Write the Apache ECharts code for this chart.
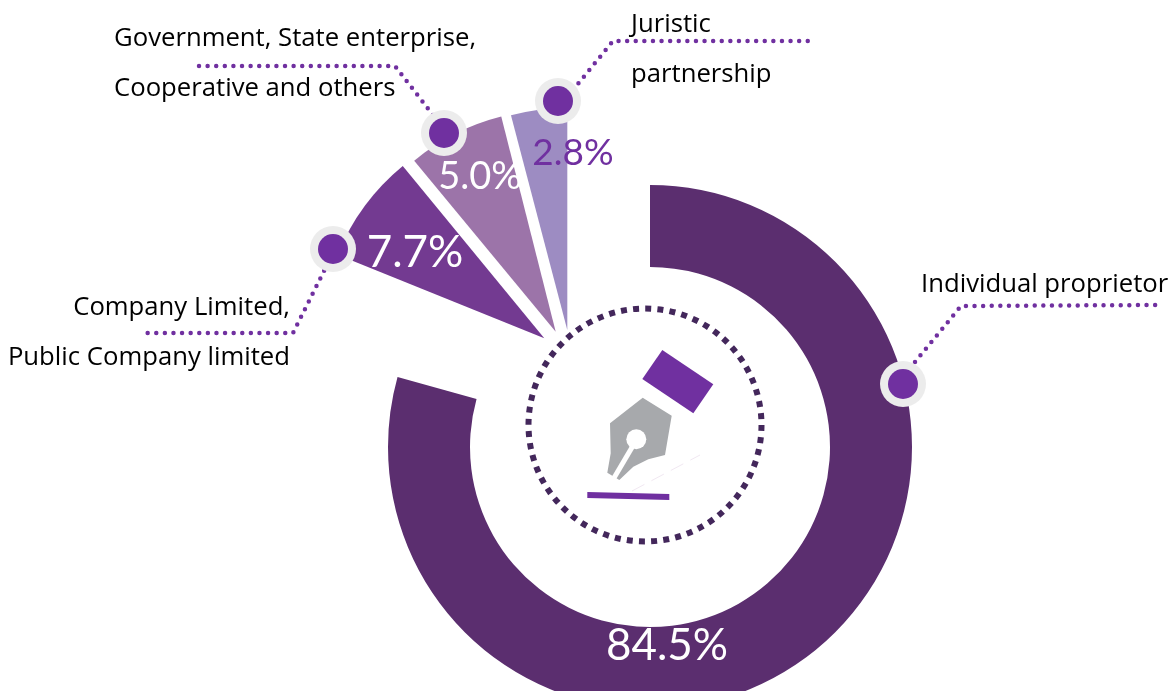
<!DOCTYPE html>
<html>
<head>
<meta charset="utf-8">
<title>Share by juristic type</title>
<script src="https://cdn.jsdelivr.net/npm/echarts@6/dist/echarts.min.js"></script>
<style>
    html, body { margin: 0; padding: 0; background: #fff; overflow: hidden; }
    #chart { width: 1169px; height: 691px; }
</style>
</head>
<body>
<div id="chart"></div>
<script>
const categories = [
    'Individual proprietor',
    'Company Limited,\nPublic Company limited',
    'Government, State enterprise,\nCooperative and others',
    'Juristic\npartnership'
]
const shares = [84.5, 7.7, 5.0, 2.8]

const TEXT_FONT = 'Open Sans'
const VALUE_FONT = 'Lato'
const PURPLE = '#7030a0'

// the slices are hand placed in the original, so each one is its own pie
const slices = [
    { center: [650, 447], radius: [180, 262], start: 90, end: -195.5, color: '#5b2e6f', label: [667, 646, 44, '#fff'] },
    { center: [544.3, 338.3], radius: [0, 223], start: 158, end: 129.4, color: '#733a91', label: [415, 253, 44, '#fff'] },
    { center: [555.7, 331.7], radius: [0, 222], start: 129.6, end: 104.2, color: '#9c74a9', label: [480, 177, 38, '#fff'] },
    { center: [567.3, 330], radius: [0, 222], start: 104.7, end: 90, color: '#9d8cc2', label: [573, 153, 37, PURPLE] }
]

const callouts = [
    { marker: [903, 384], line: [[915, 362], [961, 306], [1156, 305]], text: [921, 285], align: 'left' },
    { marker: [333, 249], line: [[328, 263], [293, 333], [146, 333]], text: [290, 333], align: 'right' },
    { marker: [444, 133], line: [[433, 115], [395, 66], [196, 66]], text: [114, 64], align: 'left' },
    { marker: [558, 101], line: [[573, 90], [613, 41], [810, 41]], text: [631, 50], align: 'left' }
]

const pieSeries = slices.map((s, i) => ({
    type: 'pie',
    center: s.center,
    radius: s.radius,
    startAngle: s.start,
    endAngle: s.end,
    clockwise: true,
    silent: true,
    animation: false,
    itemStyle: { color: s.color },
    label: {
        show: true,
        position: 'inside',
        fontFamily: VALUE_FONT,
        fontSize: s.label[2],
        color: s.label[3],
        formatter: (p) => p.value.toFixed(1) + '%'
    },
    labelLine: { show: false },
    labelLayout: { x: s.label[0], y: s.label[1], align: 'center', verticalAlign: 'middle' },
    data: [{ name: categories[i], value: shares[i] }]
}))

const calloutGraphics = []
callouts.forEach((c, i) => {
    calloutGraphics.push({
        type: 'polyline',
        z: 10,
        shape: { points: c.line },
        style: { fill: null, stroke: PURPLE, lineWidth: 4.5, lineCap: 'round', lineDash: [0, 8.6] }
    })
    calloutGraphics.push({
        type: 'circle',
        z: 11,
        shape: { cx: c.marker[0], cy: c.marker[1], r: 23 },
        style: { fill: '#ececec' }
    })
    calloutGraphics.push({
        type: 'circle',
        z: 12,
        shape: { cx: c.marker[0], cy: c.marker[1], r: 15 },
        style: { fill: PURPLE }
    })
    calloutGraphics.push({
        type: 'text',
        z: 10,
        x: c.text[0],
        y: c.text[1],
        style: {
            text: categories[i],
            fontFamily: TEXT_FONT,
            fontSize: 25.7,
            lineHeight: 50,
            fill: '#000',
            align: c.align,
            verticalAlign: 'middle'
        }
    })
})

const penGraphics = [
    {
        type: 'circle',
        shape: { cx: 645, cy: 425, r: 116.5 },
        style: { fill: null, stroke: '#43275b', lineWidth: 6, lineDash: [6, 6.2] }
    },
    {
        type: 'polygon',
        shape: { points: [[662.3, 350], [713.3, 384.3], [693.3, 413.3], [642.3, 379]] },
        style: { fill: PURPLE }
    },
    {
        type: 'polygon',
        shape: { points: [[642.7, 397.7], [671.7, 415.7], [665, 455], [648.3, 459.3], [633.3, 466.7], [619.3, 480], [607.3, 472.7], [610.7, 453.3], [610, 423.3]] },
        style: { fill: '#a7a9ac' }
    },
    {
        type: 'circle',
        shape: { cx: 636.3, cy: 439.3, r: 10 },
        style: { fill: '#fff' }
    },
    {
        type: 'line',
        shape: { x1: 634, y1: 444, x2: 611.6, y2: 482 },
        style: { stroke: '#fff', lineWidth: 5 }
    },
    {
        type: 'line',
        shape: { x1: 632, y1: 491, x2: 700, y2: 455 },
        style: { stroke: '#f1e8f2', lineWidth: 1, lineDash: [14, 8] }
    },
    {
        type: 'polygon',
        shape: { points: [[587.3, 492], [669.3, 494], [669.3, 500], [587.3, 498]] },
        style: { fill: PURPLE }
    }
]

const myChart = echarts.init(document.getElementById('chart'))
myChart.setOption({
    animation: false,
    backgroundColor: '#fff',
    series: pieSeries,
    graphic: { elements: penGraphics.concat(calloutGraphics) }
})
</script>
</body>
</html>
